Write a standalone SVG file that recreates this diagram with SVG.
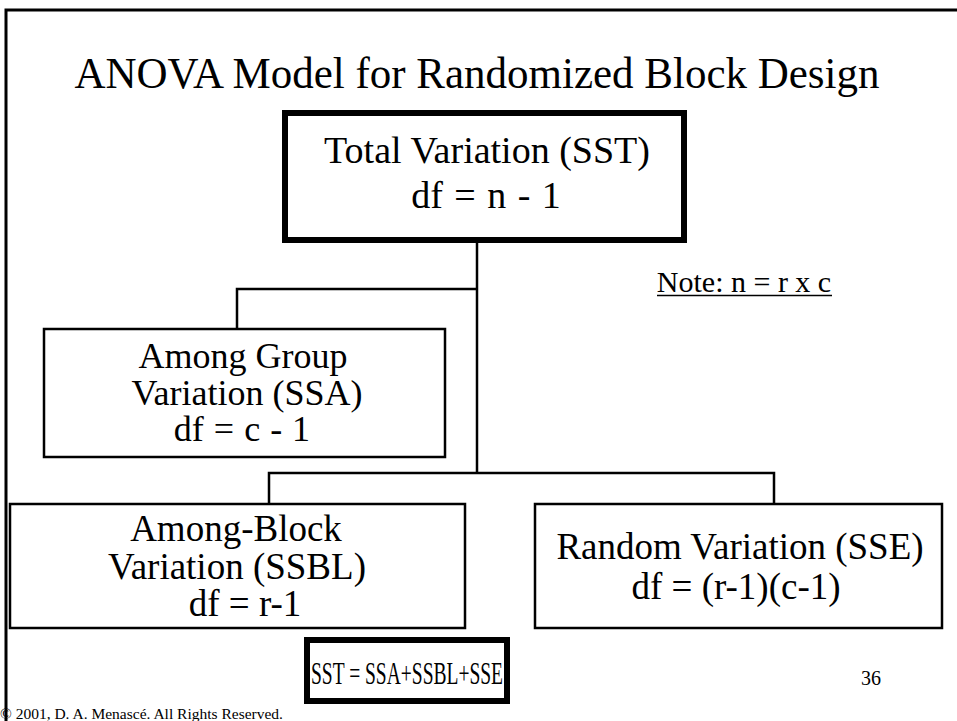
<svg xmlns="http://www.w3.org/2000/svg" width="957" height="721" viewBox="0 0 957 721" font-family="'Liberation Serif', 'Times New Roman', serif">
  <style>
    text { font-family: 'Liberation Serif', 'Times New Roman', serif; fill: #000; }
    .c { text-anchor: middle; }
    .box { fill: #fff; stroke: #000; stroke-width: 2.5; }
    .thick { fill: #fff; stroke: #000; stroke-width: 6; }
    .wire { fill: none; stroke: #000; stroke-width: 2.5; }
  </style>
  <rect width="957" height="721" fill="#fff"/>
  <!-- slide frame -->
  <path d="M6 730 V10 H960" fill="none" stroke="#000" stroke-width="3"/>

  <text class="c" x="477" y="88" font-size="44" textLength="805" lengthAdjust="spacingAndGlyphs">ANOVA Model for Randomized Block Design</text>

  <g id="connectors">
    <path class="wire" d="M477 240 V473"/>
    <path class="wire" d="M477 289 H237 V329"/>
    <path class="wire" d="M269 504 V473 H774 V504"/>
  </g>

  <g id="sst">
    <rect class="thick" x="285" y="113" width="399" height="127"/>
    <text class="c" x="487" y="163" font-size="38">Total Variation (SST)</text>
    <text class="c" x="486" y="208" font-size="38" word-spacing="2">df = n - 1</text>
  </g>

  <g id="ssa">
    <rect class="box" x="44" y="329" width="401" height="128"/>
    <text class="c" x="243" y="368" font-size="36">Among Group</text>
    <text class="c" x="247" y="405" font-size="36">Variation (SSA)</text>
    <text class="c" x="242" y="441" font-size="36" word-spacing="1">df = c - 1</text>
  </g>

  <g id="note">
    <text class="c" x="744" y="292" font-size="30">Note: n = r x c</text>
    <line x1="657" y1="295.5" x2="832" y2="295.5" stroke="#000" stroke-width="1.5"/>
  </g>

  <g id="ssbl">
    <rect class="box" x="10" y="504" width="455" height="124"/>
    <text class="c" x="236" y="541" font-size="37">Among-Block</text>
    <text class="c" x="237" y="579" font-size="37">Variation (SSBL)</text>
    <text class="c" x="245" y="616" font-size="37">df = r-1</text>
  </g>

  <g id="sse">
    <rect class="box" x="535" y="504" width="407" height="124"/>
    <text class="c" x="740" y="559" font-size="37">Random Variation (SSE)</text>
    <text class="c" x="736" y="599" font-size="37">df = (r-1)(c-1)</text>
  </g>

  <g id="sum">
    <rect class="thick" x="307" y="640" width="200" height="61"/>
    <text class="c" x="407" y="684" font-size="32" textLength="192" lengthAdjust="spacingAndGlyphs">SST = SSA+SSBL+SSE</text>
  </g>

  <text class="c" x="871" y="685" font-size="20">36</text>
  <text x="0" y="719" font-size="15.5">© 2001, D. A. Menascé. All Rights Reserved.</text>
</svg>
